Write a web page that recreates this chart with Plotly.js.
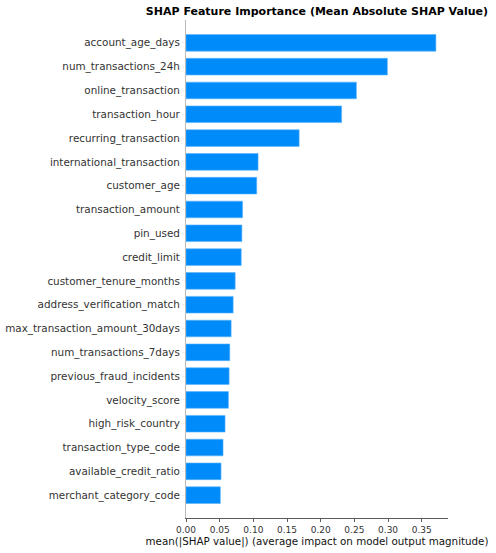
<!DOCTYPE html>
<html>
<head>
<meta charset="utf-8">
<script src="https://cdn.plot.ly/plotly-3.0.1.min.js"></script>
<style>
  html, body { margin: 0; padding: 0; background: #fff; }
  #graph { width: 496px; height: 553px; }
</style>
</head>
<body>
<div id="graph"></div>
<script>
// features, most important first
var features = [
  'account_age_days', 'num_transactions_24h', 'online_transaction', 'transaction_hour',
  'recurring_transaction', 'international_transaction', 'customer_age', 'transaction_amount',
  'pin_used', 'credit_limit', 'customer_tenure_months', 'address_verification_match',
  'max_transaction_amount_30days', 'num_transactions_7days', 'previous_fraud_incidents',
  'velocity_score', 'high_risk_country', 'transaction_type_code', 'available_credit_ratio',
  'merchant_category_code'
];
var meanAbsShap = [
  0.371, 0.299, 0.253, 0.231,
  0.168, 0.107, 0.105, 0.084,
  0.083, 0.082, 0.073, 0.070,
  0.067, 0.065, 0.064,
  0.063, 0.058, 0.055, 0.052,
  0.051
];
var xTicks = [0, 0.05, 0.10, 0.15, 0.20, 0.25, 0.30, 0.35];

var graph = document.getElementById('graph');
var font = 'DejaVu Sans, sans-serif';

var trace = {
  type: 'bar',
  orientation: 'h',
  x: meanAbsShap,
  y: features,
  width: 0.7,
  marker: {
    color: '#008bfb',
    line: { color: '#5cb3fc', width: 0.6 }
  },
  hoverinfo: 'x+y'
};

var layout = {
  width: 496,
  height: 553,
  margin: { l: 186, r: 48, t: 20, b: 35 },
  paper_bgcolor: '#fff',
  plot_bgcolor: '#fff',
  showlegend: false,
  bargap: 0.3,
  title: {
    text: '<b>SHAP Feature Importance (Mean Absolute SHAP Value)</b>',
    font: { family: font, size: 11, color: '#000' },
    x: 0.639, xanchor: 'center',
    y: 0.98, yanchor: 'middle'
  },
  xaxis: {
    range: [0, 0.389],
    tickvals: xTicks,
    ticktext: xTicks.map(function (v) { return v.toFixed(2); }),
    ticks: 'outside',
    ticklen: 3.5,
    tickwidth: 0.8,
    tickcolor: '#333',
    tickfont: { family: font, size: 9, color: '#333' },
    showgrid: false,
    zeroline: false,
    showline: true,
    linecolor: '#333',
    linewidth: 0.8,
    title: {
      text: 'mean(|SHAP value|) (average impact on model output magnitude)',
      font: { family: font, size: 10.3, color: '#111' },
      standoff: 3
    }
  },
  yaxis: {
    type: 'category',
    categoryorder: 'array',
    categoryarray: features,
    range: [19.96, -0.96],
    ticks: 'outside',
    ticklen: 3,
    tickwidth: 0.5,
    tickcolor: '#ddd',
    tickfont: { family: font, size: 10.4, color: '#333' },
    showgrid: false,
    zeroline: false,
    showline: true,
    linecolor: '#bbb',
    linewidth: 1
  }
};

Plotly.newPlot(graph, [trace], layout, { displayModeBar: false, staticPlot: true });
</script>
</body>
</html>
